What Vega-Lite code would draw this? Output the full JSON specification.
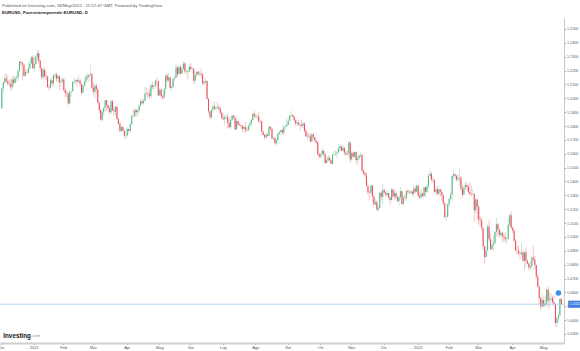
{
"$schema":"https://vega.github.io/schema/vega-lite/v6.json",
"width":564,"height":325,
"autosize":{"type":"none"},
"padding":{"left":0,"top":18,"right":16,"bottom":8},
"background":"white",
"config":{"view":{"stroke":null},"font":"Liberation Sans"},
"title":{"text":"Published on Investing.com, 18/May/2022 - 11:57:47 GMT, Powered by TradingView.","subtitle":"EURUSD, Forexintemporeale:EURUSD, D","anchor":"start","frame":"group","dx":2,"fontSize":4.3,"fontWeight":"normal","color":"#555","subtitleFontSize":4.4,"subtitleFontWeight":"bold","subtitleColor":"#222","subtitlePadding":2.5,"offset":4},
"data":{"values":[
{"t":"2020-12-01","o":1.1927,"h":1.2077,"l":1.1924,"c":1.2071},
{"t":"2020-12-02","o":1.2071,"h":1.2122,"l":1.2040,"c":1.2115},
{"t":"2020-12-03","o":1.2115,"h":1.2176,"l":1.2105,"c":1.2144},
{"t":"2020-12-04","o":1.2144,"h":1.2178,"l":1.2108,"c":1.2121},
{"t":"2020-12-07","o":1.2121,"h":1.2167,"l":1.2091,"c":1.2107},
{"t":"2020-12-08","o":1.2107,"h":1.2132,"l":1.2085,"c":1.2101},
{"t":"2020-12-09","o":1.2101,"h":1.2141,"l":1.2058,"c":1.2079},
{"t":"2020-12-10","o":1.2079,"h":1.2162,"l":1.2059,"c":1.2135},
{"t":"2020-12-11","o":1.2135,"h":1.2163,"l":1.2083,"c":1.2110},
{"t":"2020-12-14","o":1.2110,"h":1.2160,"l":1.2106,"c":1.2146},
{"t":"2020-12-15","o":1.2146,"h":1.2163,"l":1.2125,"c":1.2150},
{"t":"2020-12-16","o":1.2150,"h":1.2212,"l":1.2126,"c":1.2197},
{"t":"2020-12-17","o":1.2197,"h":1.2273,"l":1.2188,"c":1.2263},
{"t":"2020-12-18","o":1.2263,"h":1.2268,"l":1.2225,"c":1.2255},
{"t":"2020-12-21","o":1.2255,"h":1.2258,"l":1.2130,"c":1.2242},
{"t":"2020-12-22","o":1.2242,"h":1.2251,"l":1.2153,"c":1.2163},
{"t":"2020-12-23","o":1.2163,"h":1.2212,"l":1.2153,"c":1.2188},
{"t":"2020-12-24","o":1.2188,"h":1.2206,"l":1.2173,"c":1.2185},
{"t":"2020-12-28","o":1.2185,"h":1.2251,"l":1.2180,"c":1.2214},
{"t":"2020-12-29","o":1.2214,"h":1.2276,"l":1.2209,"c":1.2250},
{"t":"2020-12-30","o":1.2250,"h":1.2310,"l":1.2243,"c":1.2296},
{"t":"2020-12-31","o":1.2296,"h":1.2310,"l":1.2211,"c":1.2216},
{"t":"2021-01-04","o":1.2216,"h":1.2310,"l":1.2192,"c":1.2247},
{"t":"2021-01-05","o":1.2247,"h":1.2305,"l":1.2235,"c":1.2297},
{"t":"2021-01-06","o":1.2297,"h":1.2349,"l":1.2265,"c":1.2325},
{"t":"2021-01-07","o":1.2325,"h":1.2345,"l":1.2249,"c":1.2271},
{"t":"2021-01-08","o":1.2271,"h":1.2279,"l":1.2192,"c":1.2219},
{"t":"2021-01-11","o":1.2219,"h":1.2222,"l":1.2132,"c":1.2151},
{"t":"2021-01-12","o":1.2151,"h":1.2212,"l":1.2136,"c":1.2206},
{"t":"2021-01-13","o":1.2206,"h":1.2223,"l":1.2152,"c":1.2158},
{"t":"2021-01-14","o":1.2158,"h":1.2189,"l":1.2131,"c":1.2155},
{"t":"2021-01-15","o":1.2155,"h":1.2166,"l":1.2075,"c":1.2082},
{"t":"2021-01-18","o":1.2082,"h":1.2093,"l":1.2054,"c":1.2077},
{"t":"2021-01-19","o":1.2077,"h":1.2145,"l":1.2066,"c":1.2130},
{"t":"2021-01-20","o":1.2130,"h":1.2153,"l":1.2090,"c":1.2106},
{"t":"2021-01-21","o":1.2106,"h":1.2172,"l":1.2081,"c":1.2166},
{"t":"2021-01-22","o":1.2166,"h":1.2181,"l":1.2141,"c":1.2171},
{"t":"2021-01-25","o":1.2171,"h":1.2187,"l":1.2119,"c":1.2140},
{"t":"2021-01-26","o":1.2140,"h":1.2176,"l":1.2117,"c":1.2161},
{"t":"2021-01-27","o":1.2161,"h":1.2168,"l":1.2058,"c":1.2115},
{"t":"2021-01-28","o":1.2115,"h":1.2140,"l":1.2080,"c":1.2123},
{"t":"2021-01-29","o":1.2123,"h":1.2156,"l":1.2106,"c":1.2136},
{"t":"2021-02-01","o":1.2136,"h":1.2146,"l":1.2050,"c":1.2060},
{"t":"2021-02-02","o":1.2060,"h":1.2078,"l":1.2005,"c":1.2036},
{"t":"2021-02-03","o":1.2036,"h":1.2057,"l":1.2005,"c":1.2033},
{"t":"2021-02-04","o":1.2033,"h":1.2048,"l":1.1952,"c":1.1963},
{"t":"2021-02-05","o":1.1963,"h":1.2052,"l":1.1959,"c":1.2046},
{"t":"2021-02-08","o":1.2046,"h":1.2054,"l":1.2011,"c":1.2050},
{"t":"2021-02-09","o":1.2050,"h":1.2123,"l":1.2048,"c":1.2118},
{"t":"2021-02-10","o":1.2118,"h":1.2150,"l":1.2103,"c":1.2121},
{"t":"2021-02-11","o":1.2121,"h":1.2140,"l":1.2103,"c":1.2131},
{"t":"2021-02-12","o":1.2131,"h":1.2143,"l":1.2085,"c":1.2119},
{"t":"2021-02-15","o":1.2119,"h":1.2169,"l":1.2117,"c":1.2128},
{"t":"2021-02-16","o":1.2128,"h":1.2144,"l":1.2082,"c":1.2104},
{"t":"2021-02-17","o":1.2104,"h":1.2108,"l":1.2023,"c":1.2039},
{"t":"2021-02-18","o":1.2039,"h":1.2097,"l":1.2037,"c":1.2092},
{"t":"2021-02-19","o":1.2092,"h":1.2144,"l":1.2080,"c":1.2118},
{"t":"2021-02-22","o":1.2118,"h":1.2169,"l":1.2091,"c":1.2157},
{"t":"2021-02-23","o":1.2157,"h":1.2180,"l":1.2132,"c":1.2151},
{"t":"2021-02-24","o":1.2151,"h":1.2181,"l":1.2117,"c":1.2167},
{"t":"2021-02-25","o":1.2167,"h":1.2243,"l":1.2163,"c":1.2174},
{"t":"2021-02-26","o":1.2174,"h":1.2184,"l":1.2062,"c":1.2075},
{"t":"2021-03-01","o":1.2075,"h":1.2113,"l":1.2025,"c":1.2047},
{"t":"2021-03-02","o":1.2047,"h":1.2098,"l":1.2000,"c":1.2090},
{"t":"2021-03-03","o":1.2090,"h":1.2112,"l":1.2030,"c":1.2064},
{"t":"2021-03-04","o":1.2064,"h":1.2074,"l":1.1961,"c":1.1966},
{"t":"2021-03-05","o":1.1966,"h":1.1974,"l":1.1892,"c":1.1915},
{"t":"2021-03-08","o":1.1915,"h":1.1924,"l":1.1836,"c":1.1846},
{"t":"2021-03-09","o":1.1846,"h":1.1915,"l":1.1835,"c":1.1900},
{"t":"2021-03-10","o":1.1900,"h":1.1936,"l":1.1875,"c":1.1929},
{"t":"2021-03-11","o":1.1929,"h":1.1990,"l":1.1910,"c":1.1985},
{"t":"2021-03-12","o":1.1985,"h":1.1991,"l":1.1910,"c":1.1952},
{"t":"2021-03-15","o":1.1952,"h":1.1956,"l":1.1910,"c":1.1928},
{"t":"2021-03-16","o":1.1928,"h":1.1951,"l":1.1890,"c":1.1900},
{"t":"2021-03-17","o":1.1900,"h":1.1989,"l":1.1884,"c":1.1978},
{"t":"2021-03-18","o":1.1978,"h":1.1989,"l":1.1906,"c":1.1914},
{"t":"2021-03-19","o":1.1914,"h":1.1942,"l":1.1874,"c":1.1904},
{"t":"2021-03-22","o":1.1904,"h":1.1943,"l":1.1874,"c":1.1938},
{"t":"2021-03-23","o":1.1938,"h":1.1947,"l":1.1841,"c":1.1851},
{"t":"2021-03-24","o":1.1851,"h":1.1856,"l":1.1809,"c":1.1815},
{"t":"2021-03-25","o":1.1815,"h":1.1831,"l":1.1761,"c":1.1762},
{"t":"2021-03-26","o":1.1762,"h":1.1800,"l":1.1761,"c":1.1792},
{"t":"2021-03-29","o":1.1792,"h":1.1800,"l":1.1763,"c":1.1765},
{"t":"2021-03-30","o":1.1765,"h":1.1778,"l":1.1713,"c":1.1729},
{"t":"2021-03-31","o":1.1729,"h":1.1763,"l":1.1704,"c":1.1732},
{"t":"2021-04-01","o":1.1732,"h":1.1793,"l":1.1722,"c":1.1778},
{"t":"2021-04-02","o":1.1778,"h":1.1781,"l":1.1750,"c":1.1764},
{"t":"2021-04-05","o":1.1764,"h":1.1819,"l":1.1752,"c":1.1813},
{"t":"2021-04-06","o":1.1813,"h":1.1878,"l":1.1806,"c":1.1873},
{"t":"2021-04-07","o":1.1873,"h":1.1914,"l":1.1864,"c":1.1870},
{"t":"2021-04-08","o":1.1870,"h":1.1927,"l":1.1866,"c":1.1915},
{"t":"2021-04-09","o":1.1915,"h":1.1927,"l":1.1870,"c":1.1899},
{"t":"2021-04-12","o":1.1899,"h":1.1920,"l":1.1870,"c":1.1910},
{"t":"2021-04-13","o":1.1910,"h":1.1960,"l":1.1895,"c":1.1946},
{"t":"2021-04-14","o":1.1946,"h":1.1990,"l":1.1945,"c":1.1979},
{"t":"2021-04-15","o":1.1979,"h":1.1995,"l":1.1958,"c":1.1964},
{"t":"2021-04-16","o":1.1964,"h":1.1995,"l":1.1950,"c":1.1983},
{"t":"2021-04-19","o":1.1983,"h":1.2079,"l":1.1980,"c":1.2037},
{"t":"2021-04-20","o":1.2037,"h":1.2080,"l":1.2015,"c":1.2036},
{"t":"2021-04-21","o":1.2036,"h":1.2049,"l":1.2001,"c":1.2033},
{"t":"2021-04-22","o":1.2033,"h":1.2070,"l":1.1995,"c":1.2014},
{"t":"2021-04-23","o":1.2014,"h":1.2100,"l":1.2000,"c":1.2096},
{"t":"2021-04-26","o":1.2096,"h":1.2117,"l":1.2066,"c":1.2083},
{"t":"2021-04-27","o":1.2083,"h":1.2095,"l":1.2057,"c":1.2090},
{"t":"2021-04-28","o":1.2090,"h":1.2133,"l":1.2069,"c":1.2127},
{"t":"2021-04-29","o":1.2127,"h":1.2150,"l":1.2084,"c":1.2122},
{"t":"2021-04-30","o":1.2122,"h":1.2123,"l":1.2016,"c":1.2020},
{"t":"2021-05-03","o":1.2020,"h":1.2077,"l":1.2015,"c":1.2061},
{"t":"2021-05-04","o":1.2061,"h":1.2077,"l":1.1999,"c":1.2015},
{"t":"2021-05-05","o":1.2015,"h":1.2027,"l":1.1986,"c":1.2005},
{"t":"2021-05-06","o":1.2005,"h":1.2071,"l":1.1995,"c":1.2067},
{"t":"2021-05-07","o":1.2067,"h":1.2172,"l":1.2030,"c":1.2164},
{"t":"2021-05-10","o":1.2164,"h":1.2181,"l":1.2116,"c":1.2129},
{"t":"2021-05-11","o":1.2129,"h":1.2184,"l":1.2118,"c":1.2149},
{"t":"2021-05-12","o":1.2149,"h":1.2157,"l":1.2070,"c":1.2075},
{"t":"2021-05-13","o":1.2075,"h":1.2096,"l":1.2052,"c":1.2082},
{"t":"2021-05-14","o":1.2082,"h":1.2146,"l":1.2075,"c":1.2141},
{"t":"2021-05-17","o":1.2141,"h":1.2164,"l":1.2124,"c":1.2150},
{"t":"2021-05-18","o":1.2150,"h":1.2245,"l":1.2148,"c":1.2222},
{"t":"2021-05-19","o":1.2222,"h":1.2239,"l":1.2153,"c":1.2174},
{"t":"2021-05-20","o":1.2174,"h":1.2232,"l":1.2171,"c":1.2226},
{"t":"2021-05-21","o":1.2226,"h":1.2242,"l":1.2172,"c":1.2178},
{"t":"2021-05-24","o":1.2178,"h":1.2227,"l":1.2175,"c":1.2213},
{"t":"2021-05-25","o":1.2213,"h":1.2266,"l":1.2205,"c":1.2251},
{"t":"2021-05-26","o":1.2251,"h":1.2262,"l":1.2180,"c":1.2193},
{"t":"2021-05-27","o":1.2193,"h":1.2217,"l":1.2175,"c":1.2196},
{"t":"2021-05-28","o":1.2196,"h":1.2201,"l":1.2134,"c":1.2193},
{"t":"2021-05-31","o":1.2193,"h":1.2244,"l":1.2189,"c":1.2227},
{"t":"2021-06-01","o":1.2227,"h":1.2254,"l":1.2203,"c":1.2211},
{"t":"2021-06-02","o":1.2211,"h":1.2225,"l":1.2180,"c":1.2213},
{"t":"2021-06-03","o":1.2213,"h":1.2216,"l":1.2105,"c":1.2127},
{"t":"2021-06-04","o":1.2127,"h":1.2185,"l":1.2104,"c":1.2167},
{"t":"2021-06-07","o":1.2167,"h":1.2198,"l":1.2150,"c":1.2191},
{"t":"2021-06-08","o":1.2191,"h":1.2198,"l":1.2162,"c":1.2175},
{"t":"2021-06-09","o":1.2175,"h":1.2196,"l":1.2160,"c":1.2178},
{"t":"2021-06-10","o":1.2178,"h":1.2218,"l":1.2144,"c":1.2172},
{"t":"2021-06-11","o":1.2172,"h":1.2180,"l":1.2093,"c":1.2106},
{"t":"2021-06-14","o":1.2106,"h":1.2132,"l":1.2092,"c":1.2120},
{"t":"2021-06-15","o":1.2120,"h":1.2144,"l":1.2103,"c":1.2125},
{"t":"2021-06-16","o":1.2125,"h":1.2130,"l":1.1986,"c":1.1996},
{"t":"2021-06-17","o":1.1996,"h":1.2003,"l":1.1891,"c":1.1906},
{"t":"2021-06-18","o":1.1906,"h":1.1907,"l":1.1847,"c":1.1863},
{"t":"2021-06-21","o":1.1863,"h":1.1922,"l":1.1848,"c":1.1917},
{"t":"2021-06-22","o":1.1917,"h":1.1954,"l":1.1893,"c":1.1940},
{"t":"2021-06-23","o":1.1940,"h":1.1975,"l":1.1914,"c":1.1926},
{"t":"2021-06-24","o":1.1926,"h":1.1950,"l":1.1912,"c":1.1934},
{"t":"2021-06-25","o":1.1934,"h":1.1975,"l":1.1922,"c":1.1938},
{"t":"2021-06-28","o":1.1938,"h":1.1955,"l":1.1910,"c":1.1925},
{"t":"2021-06-29","o":1.1925,"h":1.1936,"l":1.1881,"c":1.1896},
{"t":"2021-06-30","o":1.1896,"h":1.1905,"l":1.1848,"c":1.1858},
{"t":"2021-07-01","o":1.1858,"h":1.1885,"l":1.1838,"c":1.1849},
{"t":"2021-07-02","o":1.1849,"h":1.1888,"l":1.1807,"c":1.1865},
{"t":"2021-07-05","o":1.1865,"h":1.1882,"l":1.1848,"c":1.1867},
{"t":"2021-07-06","o":1.1867,"h":1.1895,"l":1.1782,"c":1.1822},
{"t":"2021-07-07","o":1.1822,"h":1.1850,"l":1.1782,"c":1.1791},
{"t":"2021-07-08","o":1.1791,"h":1.1868,"l":1.1781,"c":1.1843},
{"t":"2021-07-09","o":1.1843,"h":1.1880,"l":1.1836,"c":1.1875},
{"t":"2021-07-12","o":1.1875,"h":1.1880,"l":1.1846,"c":1.1861},
{"t":"2021-07-13","o":1.1861,"h":1.1872,"l":1.1772,"c":1.1775},
{"t":"2021-07-14","o":1.1775,"h":1.1850,"l":1.1772,"c":1.1837},
{"t":"2021-07-15","o":1.1837,"h":1.1840,"l":1.1794,"c":1.1811},
{"t":"2021-07-16","o":1.1811,"h":1.1823,"l":1.1800,"c":1.1807},
{"t":"2021-07-19","o":1.1807,"h":1.1818,"l":1.1780,"c":1.1802},
{"t":"2021-07-20","o":1.1802,"h":1.1805,"l":1.1756,"c":1.1780},
{"t":"2021-07-21","o":1.1780,"h":1.1804,"l":1.1753,"c":1.1793},
{"t":"2021-07-22","o":1.1793,"h":1.1829,"l":1.1752,"c":1.1771},
{"t":"2021-07-23","o":1.1771,"h":1.1790,"l":1.1757,"c":1.1769},
{"t":"2021-07-26","o":1.1769,"h":1.1810,"l":1.1763,"c":1.1801},
{"t":"2021-07-27","o":1.1801,"h":1.1830,"l":1.1776,"c":1.1816},
{"t":"2021-07-28","o":1.1816,"h":1.1850,"l":1.1800,"c":1.1843},
{"t":"2021-07-29","o":1.1843,"h":1.1893,"l":1.1841,"c":1.1888},
{"t":"2021-07-30","o":1.1888,"h":1.1908,"l":1.1860,"c":1.1869},
{"t":"2021-08-02","o":1.1869,"h":1.1892,"l":1.1857,"c":1.1872},
{"t":"2021-08-03","o":1.1872,"h":1.1884,"l":1.1853,"c":1.1868},
{"t":"2021-08-04","o":1.1868,"h":1.1900,"l":1.1822,"c":1.1836},
{"t":"2021-08-05","o":1.1836,"h":1.1846,"l":1.1820,"c":1.1832},
{"t":"2021-08-06","o":1.1832,"h":1.1840,"l":1.1754,"c":1.1761},
{"t":"2021-08-09","o":1.1761,"h":1.1765,"l":1.1733,"c":1.1735},
{"t":"2021-08-10","o":1.1735,"h":1.1744,"l":1.1706,"c":1.1719},
{"t":"2021-08-11","o":1.1719,"h":1.1746,"l":1.1705,"c":1.1739},
{"t":"2021-08-12","o":1.1739,"h":1.1753,"l":1.1724,"c":1.1730},
{"t":"2021-08-13","o":1.1730,"h":1.1802,"l":1.1726,"c":1.1795},
{"t":"2021-08-16","o":1.1795,"h":1.1801,"l":1.1769,"c":1.1779},
{"t":"2021-08-17","o":1.1779,"h":1.1786,"l":1.1704,"c":1.1710},
{"t":"2021-08-18","o":1.1710,"h":1.1726,"l":1.1694,"c":1.1713},
{"t":"2021-08-19","o":1.1713,"h":1.1717,"l":1.1667,"c":1.1676},
{"t":"2021-08-20","o":1.1676,"h":1.1702,"l":1.1664,"c":1.1697},
{"t":"2021-08-23","o":1.1697,"h":1.1751,"l":1.1692,"c":1.1745},
{"t":"2021-08-24","o":1.1745,"h":1.1764,"l":1.1735,"c":1.1757},
{"t":"2021-08-25","o":1.1757,"h":1.1776,"l":1.1736,"c":1.1771},
{"t":"2021-08-26","o":1.1771,"h":1.1781,"l":1.1735,"c":1.1751},
{"t":"2021-08-27","o":1.1751,"h":1.1803,"l":1.1735,"c":1.1795},
{"t":"2021-08-30","o":1.1795,"h":1.1810,"l":1.1781,"c":1.1799},
{"t":"2021-08-31","o":1.1799,"h":1.1847,"l":1.1794,"c":1.1809},
{"t":"2021-09-01","o":1.1809,"h":1.1857,"l":1.1805,"c":1.1837},
{"t":"2021-09-02","o":1.1837,"h":1.1879,"l":1.1836,"c":1.1875},
{"t":"2021-09-03","o":1.1875,"h":1.1909,"l":1.1864,"c":1.1880},
{"t":"2021-09-06","o":1.1880,"h":1.1888,"l":1.1860,"c":1.1870},
{"t":"2021-09-07","o":1.1870,"h":1.1873,"l":1.1834,"c":1.1841},
{"t":"2021-09-08","o":1.1841,"h":1.1850,"l":1.1802,"c":1.1818},
{"t":"2021-09-09","o":1.1818,"h":1.1844,"l":1.1800,"c":1.1825},
{"t":"2021-09-10","o":1.1825,"h":1.1848,"l":1.1802,"c":1.1813},
{"t":"2021-09-13","o":1.1813,"h":1.1816,"l":1.1770,"c":1.1806},
{"t":"2021-09-14","o":1.1806,"h":1.1845,"l":1.1790,"c":1.1800},
{"t":"2021-09-15","o":1.1800,"h":1.1831,"l":1.1782,"c":1.1818},
{"t":"2021-09-16","o":1.1818,"h":1.1827,"l":1.1750,"c":1.1765},
{"t":"2021-09-17","o":1.1765,"h":1.1783,"l":1.1721,"c":1.1726},
{"t":"2021-09-20","o":1.1726,"h":1.1749,"l":1.1700,"c":1.1729},
{"t":"2021-09-21","o":1.1729,"h":1.1753,"l":1.1715,"c":1.1724},
{"t":"2021-09-22","o":1.1724,"h":1.1750,"l":1.1683,"c":1.1688},
{"t":"2021-09-23","o":1.1688,"h":1.1750,"l":1.1685,"c":1.1740},
{"t":"2021-09-24","o":1.1740,"h":1.1747,"l":1.1700,"c":1.1720},
{"t":"2021-09-27","o":1.1720,"h":1.1722,"l":1.1680,"c":1.1695},
{"t":"2021-09-28","o":1.1695,"h":1.1700,"l":1.1668,"c":1.1683},
{"t":"2021-09-29","o":1.1683,"h":1.1690,"l":1.1590,"c":1.1597},
{"t":"2021-09-30","o":1.1597,"h":1.1610,"l":1.1563,"c":1.1578},
{"t":"2021-10-01","o":1.1578,"h":1.1608,"l":1.1563,"c":1.1594},
{"t":"2021-10-04","o":1.1594,"h":1.1640,"l":1.1590,"c":1.1621},
{"t":"2021-10-05","o":1.1621,"h":1.1623,"l":1.1580,"c":1.1598},
{"t":"2021-10-06","o":1.1598,"h":1.1603,"l":1.1529,"c":1.1533},
{"t":"2021-10-07","o":1.1533,"h":1.1572,"l":1.1530,"c":1.1553},
{"t":"2021-10-08","o":1.1553,"h":1.1592,"l":1.1540,"c":1.1571},
{"t":"2021-10-11","o":1.1571,"h":1.1587,"l":1.1542,"c":1.1552},
{"t":"2021-10-12","o":1.1552,"h":1.1563,"l":1.1524,"c":1.1528},
{"t":"2021-10-13","o":1.1528,"h":1.1601,"l":1.1526,"c":1.1594},
{"t":"2021-10-14","o":1.1594,"h":1.1624,"l":1.1585,"c":1.1596},
{"t":"2021-10-15","o":1.1596,"h":1.1624,"l":1.1585,"c":1.1600},
{"t":"2021-10-18","o":1.1600,"h":1.1620,"l":1.1572,"c":1.1609},
{"t":"2021-10-19","o":1.1609,"h":1.1669,"l":1.1606,"c":1.1640},
{"t":"2021-10-20","o":1.1640,"h":1.1667,"l":1.1619,"c":1.1654},
{"t":"2021-10-21","o":1.1654,"h":1.1658,"l":1.1618,"c":1.1622},
{"t":"2021-10-22","o":1.1622,"h":1.1665,"l":1.1620,"c":1.1644},
{"t":"2021-10-25","o":1.1644,"h":1.1645,"l":1.1590,"c":1.1607},
{"t":"2021-10-26","o":1.1607,"h":1.1625,"l":1.1586,"c":1.1597},
{"t":"2021-10-27","o":1.1597,"h":1.1619,"l":1.1584,"c":1.1603},
{"t":"2021-10-28","o":1.1603,"h":1.1692,"l":1.1582,"c":1.1680},
{"t":"2021-10-29","o":1.1680,"h":1.1692,"l":1.1535,"c":1.1558},
{"t":"2021-11-01","o":1.1558,"h":1.1616,"l":1.1552,"c":1.1607},
{"t":"2021-11-02","o":1.1607,"h":1.1615,"l":1.1575,"c":1.1579},
{"t":"2021-11-03","o":1.1579,"h":1.1617,"l":1.1571,"c":1.1612},
{"t":"2021-11-04","o":1.1612,"h":1.1616,"l":1.1529,"c":1.1555},
{"t":"2021-11-05","o":1.1555,"h":1.1580,"l":1.1513,"c":1.1568},
{"t":"2021-11-08","o":1.1568,"h":1.1600,"l":1.1555,"c":1.1587},
{"t":"2021-11-09","o":1.1587,"h":1.1609,"l":1.1570,"c":1.1592},
{"t":"2021-11-10","o":1.1592,"h":1.1595,"l":1.1465,"c":1.1478},
{"t":"2021-11-11","o":1.1478,"h":1.1488,"l":1.1444,"c":1.1463},
{"t":"2021-11-12","o":1.1463,"h":1.1469,"l":1.1432,"c":1.1444},
{"t":"2021-11-15","o":1.1444,"h":1.1464,"l":1.1365,"c":1.1368},
{"t":"2021-11-16","o":1.1368,"h":1.1386,"l":1.1308,"c":1.1320},
{"t":"2021-11-17","o":1.1320,"h":1.1343,"l":1.1264,"c":1.1318},
{"t":"2021-11-18","o":1.1318,"h":1.1374,"l":1.1309,"c":1.1371},
{"t":"2021-11-19","o":1.1371,"h":1.1374,"l":1.1250,"c":1.1289},
{"t":"2021-11-22","o":1.1289,"h":1.1300,"l":1.1226,"c":1.1236},
{"t":"2021-11-23","o":1.1236,"h":1.1274,"l":1.1226,"c":1.1250},
{"t":"2021-11-24","o":1.1250,"h":1.1264,"l":1.1186,"c":1.1198},
{"t":"2021-11-25","o":1.1198,"h":1.1230,"l":1.1186,"c":1.1210},
{"t":"2021-11-26","o":1.1210,"h":1.1326,"l":1.1204,"c":1.1318},
{"t":"2021-11-29","o":1.1318,"h":1.1333,"l":1.1264,"c":1.1290},
{"t":"2021-11-30","o":1.1290,"h":1.1383,"l":1.1236,"c":1.1338},
{"t":"2021-12-01","o":1.1338,"h":1.1353,"l":1.1311,"c":1.1320},
{"t":"2021-12-02","o":1.1320,"h":1.1330,"l":1.1290,"c":1.1304},
{"t":"2021-12-03","o":1.1304,"h":1.1334,"l":1.1287,"c":1.1316},
{"t":"2021-12-06","o":1.1316,"h":1.1319,"l":1.1271,"c":1.1285},
{"t":"2021-12-07","o":1.1285,"h":1.1292,"l":1.1227,"c":1.1266},
{"t":"2021-12-08","o":1.1266,"h":1.1355,"l":1.1263,"c":1.1342},
{"t":"2021-12-09","o":1.1342,"h":1.1350,"l":1.1285,"c":1.1292},
{"t":"2021-12-10","o":1.1292,"h":1.1333,"l":1.1263,"c":1.1316},
{"t":"2021-12-13","o":1.1316,"h":1.1330,"l":1.1275,"c":1.1284},
{"t":"2021-12-14","o":1.1284,"h":1.1300,"l":1.1251,"c":1.1258},
{"t":"2021-12-15","o":1.1258,"h":1.1299,"l":1.1222,"c":1.1288},
{"t":"2021-12-16","o":1.1288,"h":1.1360,"l":1.1270,"c":1.1329},
{"t":"2021-12-17","o":1.1329,"h":1.1333,"l":1.1235,"c":1.1237},
{"t":"2021-12-20","o":1.1237,"h":1.1304,"l":1.1222,"c":1.1283},
{"t":"2021-12-21","o":1.1283,"h":1.1304,"l":1.1262,"c":1.1279},
{"t":"2021-12-22","o":1.1279,"h":1.1337,"l":1.1260,"c":1.1331},
{"t":"2021-12-23","o":1.1331,"h":1.1345,"l":1.1305,"c":1.1326},
{"t":"2021-12-24","o":1.1326,"h":1.1339,"l":1.1310,"c":1.1320},
{"t":"2021-12-27","o":1.1320,"h":1.1331,"l":1.1310,"c":1.1327},
{"t":"2021-12-28","o":1.1327,"h":1.1337,"l":1.1300,"c":1.1310},
{"t":"2021-12-29","o":1.1310,"h":1.1366,"l":1.1290,"c":1.1349},
{"t":"2021-12-30","o":1.1349,"h":1.1368,"l":1.1315,"c":1.1325},
{"t":"2021-12-31","o":1.1325,"h":1.1386,"l":1.1323,"c":1.1370},
{"t":"2022-01-03","o":1.1370,"h":1.1376,"l":1.1281,"c":1.1297},
{"t":"2022-01-04","o":1.1297,"h":1.1322,"l":1.1273,"c":1.1285},
{"t":"2022-01-05","o":1.1285,"h":1.1347,"l":1.1280,"c":1.1313},
{"t":"2022-01-06","o":1.1313,"h":1.1320,"l":1.1285,"c":1.1296},
{"t":"2022-01-07","o":1.1296,"h":1.1365,"l":1.1286,"c":1.1358},
{"t":"2022-01-10","o":1.1358,"h":1.1359,"l":1.1286,"c":1.1325},
{"t":"2022-01-11","o":1.1325,"h":1.1380,"l":1.1315,"c":1.1368},
{"t":"2022-01-12","o":1.1368,"h":1.1452,"l":1.1351,"c":1.1441},
{"t":"2022-01-13","o":1.1441,"h":1.1482,"l":1.1429,"c":1.1455},
{"t":"2022-01-14","o":1.1455,"h":1.1468,"l":1.1398,"c":1.1413},
{"t":"2022-01-17","o":1.1413,"h":1.1432,"l":1.1390,"c":1.1409},
{"t":"2022-01-18","o":1.1409,"h":1.1420,"l":1.1314,"c":1.1325},
{"t":"2022-01-19","o":1.1325,"h":1.1364,"l":1.1306,"c":1.1343},
{"t":"2022-01-20","o":1.1343,"h":1.1370,"l":1.1299,"c":1.1311},
{"t":"2022-01-21","o":1.1311,"h":1.1364,"l":1.1301,"c":1.1343},
{"t":"2022-01-24","o":1.1343,"h":1.1344,"l":1.1289,"c":1.1325},
{"t":"2022-01-25","o":1.1325,"h":1.1339,"l":1.1263,"c":1.1300},
{"t":"2022-01-26","o":1.1300,"h":1.1306,"l":1.1230,"c":1.1243},
{"t":"2022-01-27","o":1.1243,"h":1.1245,"l":1.1135,"c":1.1143},
{"t":"2022-01-28","o":1.1143,"h":1.1173,"l":1.1121,"c":1.1146},
{"t":"2022-01-31","o":1.1146,"h":1.1240,"l":1.1140,"c":1.1234},
{"t":"2022-02-01","o":1.1234,"h":1.1283,"l":1.1213,"c":1.1273},
{"t":"2022-02-02","o":1.1273,"h":1.1330,"l":1.1262,"c":1.1304},
{"t":"2022-02-03","o":1.1304,"h":1.1451,"l":1.1265,"c":1.1439},
{"t":"2022-02-04","o":1.1439,"h":1.1483,"l":1.1417,"c":1.1452},
{"t":"2022-02-07","o":1.1452,"h":1.1460,"l":1.1414,"c":1.1441},
{"t":"2022-02-08","o":1.1441,"h":1.1449,"l":1.1400,"c":1.1415},
{"t":"2022-02-09","o":1.1415,"h":1.1448,"l":1.1400,"c":1.1425},
{"t":"2022-02-10","o":1.1425,"h":1.1495,"l":1.1374,"c":1.1427},
{"t":"2022-02-11","o":1.1427,"h":1.1440,"l":1.1330,"c":1.1348},
{"t":"2022-02-14","o":1.1348,"h":1.1375,"l":1.1280,"c":1.1305},
{"t":"2022-02-15","o":1.1305,"h":1.1368,"l":1.1299,"c":1.1356},
{"t":"2022-02-16","o":1.1356,"h":1.1395,"l":1.1342,"c":1.1375},
{"t":"2022-02-17","o":1.1375,"h":1.1393,"l":1.1335,"c":1.1362},
{"t":"2022-02-18","o":1.1362,"h":1.1375,"l":1.1313,"c":1.1322},
{"t":"2022-02-21","o":1.1322,"h":1.1395,"l":1.1302,"c":1.1309},
{"t":"2022-02-22","o":1.1309,"h":1.1364,"l":1.1290,"c":1.1306},
{"t":"2022-02-23","o":1.1306,"h":1.1344,"l":1.1301,"c":1.1309},
{"t":"2022-02-24","o":1.1309,"h":1.1320,"l":1.1106,"c":1.1193},
{"t":"2022-02-25","o":1.1193,"h":1.1279,"l":1.1169,"c":1.1270},
{"t":"2022-02-28","o":1.1270,"h":1.1275,"l":1.1122,"c":1.1217},
{"t":"2022-03-01","o":1.1217,"h":1.1233,"l":1.1090,"c":1.1125},
{"t":"2022-03-02","o":1.1125,"h":1.1150,"l":1.1080,"c":1.1118},
{"t":"2022-03-03","o":1.1118,"h":1.1143,"l":1.1040,"c":1.1063},
{"t":"2022-03-04","o":1.1063,"h":1.1068,"l":1.0902,"c":1.0931},
{"t":"2022-03-07","o":1.0931,"h":1.0932,"l":1.0806,"c":1.0855},
{"t":"2022-03-08","o":1.0855,"h":1.0940,"l":1.0850,"c":1.0903},
{"t":"2022-03-09","o":1.0903,"h":1.1090,"l":1.0900,"c":1.1076},
{"t":"2022-03-10","o":1.1076,"h":1.1121,"l":1.0965,"c":1.0983},
{"t":"2022-03-11","o":1.0983,"h":1.1026,"l":1.0906,"c":1.0912},
{"t":"2022-03-14","o":1.0912,"h":1.0985,"l":1.0905,"c":1.0941},
{"t":"2022-03-15","o":1.0941,"h":1.1010,"l":1.0905,"c":1.0954},
{"t":"2022-03-16","o":1.0954,"h":1.1042,"l":1.0944,"c":1.1035},
{"t":"2022-03-17","o":1.1035,"h":1.1137,"l":1.1005,"c":1.1092},
{"t":"2022-03-18","o":1.1092,"h":1.1100,"l":1.1000,"c":1.1051},
{"t":"2022-03-21","o":1.1051,"h":1.1070,"l":1.1000,"c":1.1016},
{"t":"2022-03-22","o":1.1016,"h":1.1045,"l":1.0990,"c":1.1030},
{"t":"2022-03-23","o":1.1030,"h":1.1040,"l":1.0963,"c":1.1005},
{"t":"2022-03-24","o":1.1005,"h":1.1024,"l":1.0962,"c":1.0998},
{"t":"2022-03-25","o":1.0998,"h":1.1031,"l":1.0965,"c":1.0983},
{"t":"2022-03-28","o":1.0983,"h":1.0999,"l":1.0945,"c":1.0985},
{"t":"2022-03-29","o":1.0985,"h":1.1138,"l":1.0980,"c":1.1087},
{"t":"2022-03-30","o":1.1087,"h":1.1171,"l":1.1070,"c":1.1157},
{"t":"2022-03-31","o":1.1157,"h":1.1185,"l":1.1057,"c":1.1067},
{"t":"2022-04-01","o":1.1067,"h":1.1076,"l":1.1028,"c":1.1046},
{"t":"2022-04-04","o":1.1046,"h":1.1054,"l":1.0966,"c":1.0972},
{"t":"2022-04-05","o":1.0972,"h":1.0986,"l":1.0899,"c":1.0903},
{"t":"2022-04-06","o":1.0903,"h":1.0937,"l":1.0873,"c":1.0901},
{"t":"2022-04-07","o":1.0901,"h":1.0936,"l":1.0868,"c":1.0880},
{"t":"2022-04-08","o":1.0880,"h":1.0901,"l":1.0837,"c":1.0876},
{"t":"2022-04-11","o":1.0876,"h":1.0955,"l":1.0868,"c":1.0887},
{"t":"2022-04-12","o":1.0887,"h":1.0906,"l":1.0822,"c":1.0829},
{"t":"2022-04-13","o":1.0829,"h":1.0900,"l":1.0757,"c":1.0890},
{"t":"2022-04-14","o":1.0890,"h":1.0925,"l":1.0785,"c":1.0826},
{"t":"2022-04-15","o":1.0826,"h":1.0839,"l":1.0804,"c":1.0808},
{"t":"2022-04-18","o":1.0808,"h":1.0819,"l":1.0757,"c":1.0780},
{"t":"2022-04-19","o":1.0780,"h":1.0822,"l":1.0764,"c":1.0790},
{"t":"2022-04-20","o":1.0790,"h":1.0865,"l":1.0770,"c":1.0851},
{"t":"2022-04-21","o":1.0851,"h":1.0936,"l":1.0823,"c":1.0837},
{"t":"2022-04-22","o":1.0837,"h":1.0863,"l":1.0766,"c":1.0798},
{"t":"2022-04-25","o":1.0798,"h":1.0799,"l":1.0698,"c":1.0715},
{"t":"2022-04-26","o":1.0715,"h":1.0733,"l":1.0634,"c":1.0640},
{"t":"2022-04-27","o":1.0640,"h":1.0655,"l":1.0515,"c":1.0558},
{"t":"2022-04-28","o":1.0558,"h":1.0569,"l":1.0471,"c":1.0498},
{"t":"2022-04-29","o":1.0498,"h":1.0593,"l":1.0491,"c":1.0545},
{"t":"2022-05-02","o":1.0545,"h":1.0566,"l":1.0490,"c":1.0506},
{"t":"2022-05-03","o":1.0506,"h":1.0576,"l":1.0493,"c":1.0522},
{"t":"2022-05-04","o":1.0522,"h":1.0628,"l":1.0505,"c":1.0620},
{"t":"2022-05-05","o":1.0620,"h":1.0641,"l":1.0493,"c":1.0541},
{"t":"2022-05-06","o":1.0541,"h":1.0605,"l":1.0483,"c":1.0548},
{"t":"2022-05-09","o":1.0548,"h":1.0594,"l":1.0523,"c":1.0560},
{"t":"2022-05-10","o":1.0560,"h":1.0577,"l":1.0519,"c":1.0529},
{"t":"2022-05-11","o":1.0529,"h":1.0580,"l":1.0501,"c":1.0513},
{"t":"2022-05-12","o":1.0513,"h":1.0521,"l":1.0354,"c":1.0380},
{"t":"2022-05-13","o":1.0380,"h":1.0422,"l":1.0349,"c":1.0412},
{"t":"2022-05-16","o":1.0412,"h":1.0443,"l":1.0389,"c":1.0433},
{"t":"2022-05-17","o":1.0433,"h":1.0563,"l":1.0427,"c":1.0553},
{"t":"2022-05-18","o":1.0553,"h":1.0566,"l":1.0510,"c":1.0515}
]},
"layer":[
{"mark":{"type":"rule","strokeWidth":0.6,"opacity":0.55},
 "encoding":{
  "x":{"field":"t","type":"ordinal","scale":{"type":"band","paddingInner":0,"paddingOuter":2.95,"align":0.36},
   "axis":{"title":null,"orient":"bottom","values":["2020-12-01","2021-01-04","2021-02-01","2021-03-01","2021-04-01","2021-05-03","2021-06-01","2021-07-01","2021-08-02","2021-09-01","2021-10-01","2021-11-01","2021-12-01","2022-01-03","2022-02-01","2022-03-01","2022-04-01","2022-05-02"],
    "labelExpr":"slice(datum.value,5,7)=='01' ? slice(datum.value,0,4) : ['','Gen','Feb','Mar','Apr','Mag','Giu','Lug','Ago','Set','Ott','Nov','Dic'][toNumber(slice(datum.value,5,7))]",
    "labelAngle":0,"labelFontSize":4,"labelColor":"#555","labelPadding":1,"labelOverlap":false,"labelBound":false,"tickSize":1.5,"tickColor":"#999","domainColor":"#d0d0d0","domainWidth":2,"grid":false}},
  "y":{"field":"l","type":"quantitative","scale":{"domain":[1.0235,1.2579],"nice":false,"zero":false},
   "axis":{"title":null,"orient":"right","tickCount":40,"values":[1.03,1.04,1.05,1.06,1.07,1.08,1.09,1.1,1.11,1.12,1.13,1.14,1.15,1.16,1.17,1.18,1.19,1.2,1.21,1.22,1.23,1.24,1.25],"format":".4f","labelFontSize":3.7,"labelColor":"#555","labelPadding":1,"labelOverlap":false,"labelBound":false,"labelFlush":false,"tickSize":1.5,"tickColor":"#999","domainColor":"#c8c8c8","domainWidth":1,"grid":false}},
  "y2":{"field":"h"},
  "color":{"condition":{"test":"datum.c >= datum.o","value":"#53b987"},"value":"#eb4d5c"}}},
{"mark":{"type":"bar","width":{"band":0.72}},
 "encoding":{
  "x":{"field":"t","type":"ordinal"},
  "y":{"field":"o","type":"quantitative"},
  "y2":{"field":"c"},
  "color":{"condition":{"test":"datum.c >= datum.o","value":"#53b987"},"value":"#eb4d5c"}}},
{"data":{"values":[{"p":1.0515}]},
 "mark":{"type":"rule","color":"#aac8f2","strokeWidth":0.8},
 "encoding":{"y":{"field":"p","type":"quantitative"}}},
{"data":{"values":[{"label":"Investing"}]},
 "mark":{"type":"text","align":"left","baseline":"middle","fontSize":6.3,"fontWeight":"bold","color":"#111"},
 "encoding":{"x":{"datum":"2020-12-02","type":"ordinal"},"y":{"datum":1.0285,"type":"quantitative"},"text":{"field":"label"}}},
{"data":{"values":[{"label":".com"}]},
 "mark":{"type":"text","align":"left","baseline":"middle","fontSize":4,"color":"#888"},
 "encoding":{"x":{"datum":"2020-12-30","type":"ordinal"},"y":{"datum":1.0283,"type":"quantitative"},"text":{"field":"label"}}},
{"data":{"values":[{"p":1.0596}]},
 "mark":{"type":"point","filled":true,"shape":"circle","size":30,"color":"#3b8fe8","opacity":1},
 "encoding":{"x":{"datum":"2022-05-16","type":"ordinal"},"y":{"field":"p","type":"quantitative"}}},
{"data":{"values":[{"p":1.0515}]},
 "mark":{"type":"point","filled":true,"shape":"M-1,-0.47H1V0.47H-1Z","size":225,"color":"#3d7fe0","opacity":1,"xOffset":14.3},
 "encoding":{"x":{"datum":"2022-05-18","type":"ordinal"},"y":{"field":"p","type":"quantitative"}}},
{"data":{"values":[{"p":1.0515,"label":"1.0515"}]},
 "mark":{"type":"text","align":"center","baseline":"middle","fontSize":3.8,"color":"white","dx":14.3},
 "encoding":{"x":{"datum":"2022-05-18","type":"ordinal"},"y":{"field":"p","type":"quantitative"},"text":{"field":"label"}}}
]
}
